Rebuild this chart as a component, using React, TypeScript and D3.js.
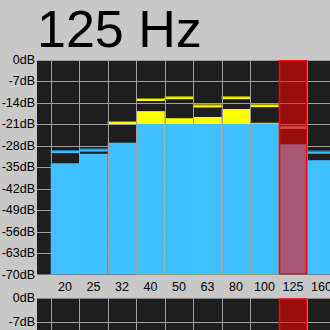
import React from "react";
import * as d3 from "d3";

const bands = ["16", "20", "25", "32", "40", "50", "63", "80", "100", "125", "160"];
const levelDb: (number | null)[] = [null, -33.7, -30.6, -27.0, -20.9, -20.9, -20.9, -20.9, -20.7, -27.5, -32.7];
const holdDb: (number | null)[] = [null, -33.7, -30.6, -27.0, -16.7, -19.0, -18.6, -16.0, -20.5, -27.5, -32.7];
const peakDb: (number | null)[] = [null, -29.9, -29.4, -20.4, -12.9, -12.3, -15.0, -12.3, -14.9, -22.0, -30.1];
const selectedBand = "125";
const titleText = "125 Hz";
const dbTicks = [0, -7, -14, -21, -28, -35, -42, -49, -56, -63, -70];
const lowerTicks = [0, -7, -14];

const W = 330;
const H = 330;
const BG = "#c8c8c8";
const DARK = "#1e1e1e";
const GRID = "#a0a0a0";
const BLUE = "#40c0ff";
const YELLOW = "#ffff00";
const FONT = "Liberation Sans, Arial, sans-serif";

export default function App() {
  const plotL = 37;
  const plotR = W;
  const top1 = 60;
  const bot1 = 274.5;
  const x = d3.scaleBand<string>().domain(bands).range([22.2, 335.8]).padding(0);
  const y = d3.scaleLinear().domain([0, -70]).range([top1, bot1]);
  const top2 = 298.3;
  const y2 = d3.scaleLinear().domain([0, -7]).range([top2, 321.7]);
  const bw = x.bandwidth();
  const edges = bands.map((b) => x(b)!).concat([x(bands[bands.length - 1])! + bw]);
  const sx = x(selectedBand)!;

  const barNodes: React.ReactNode[] = [];
  bands.forEach((b, i) => {
    const lv = levelDb[i];
    const hd = holdDb[i];
    const pk = peakDb[i];
    const bx = x(b)!;
    if (hd != null && hd > (lv ?? -999)) {
      barNodes.push(<rect key={"h" + b} x={bx} y={y(hd)} width={bw} height={bot1 - y(hd)} fill={YELLOW} />);
    }
    if (lv != null) {
      barNodes.push(<rect key={"l" + b} x={bx} y={y(lv)} width={bw} height={bot1 - y(lv)} fill={BLUE} />);
    }
    if (pk != null) {
      const sel = b === selectedBand;
      const isYellow = lv != null && pk - lv > 5;
      const col = sel ? "#a0a0a0" : isYellow ? YELLOW : BLUE;
      const dark = sel ? "#707070" : isYellow ? "#808000" : "#2070a0";
      const py = y(pk);
      barNodes.push(<rect key={"p" + b} x={bx} y={py - 1.5} width={bw} height={3} fill={col} />);
      barNodes.push(
        <line key={"pd" + b} x1={bx} x2={bx + bw} y1={py - 1} y2={py - 1} stroke={dark} strokeWidth={1}
          strokeDasharray={sel ? "2,2" : undefined} />
      );
    }
  });

  return (
    <div style={{ position: "fixed", left: 0, top: 0, width: W, height: H, background: BG }}>
      <svg width={W} height={H} style={{ display: "block" }} fontFamily={FONT}>
        <defs>
          <clipPath id="c1"><rect x={plotL} y={top1} width={plotR - plotL} height={bot1 - top1} /></clipPath>
          <clipPath id="c2"><rect x={plotL} y={top2} width={plotR - plotL} height={H - top2} /></clipPath>
        </defs>
        <rect x={0} y={0} width={W} height={H} fill={BG} />
        <text x={37} y={46.7} fontSize={52} fill="#000">{titleText}</text>

        {/* upper panel */}
        <rect x={plotL} y={top1} width={plotR - plotL} height={bot1 - top1} fill={DARK} />
        <g clipPath="url(#c1)">
          {dbTicks.map((t) => (
            <line key={"g" + t} x1={plotL} x2={plotR} y1={Math.round(y(t)) + 0.5} y2={Math.round(y(t)) + 0.5} stroke={GRID} strokeWidth={1} />
          ))}
          {barNodes}
          {edges.map((e, i) => (
            <line key={"v" + i} x1={Math.round(e) + 0.5} x2={Math.round(e) + 0.5} y1={top1} y2={bot1} stroke={GRID} strokeWidth={1} />
          ))}
          <rect x={sx} y={top1} width={bw} height={bot1 - top1} fill="#ff0000" fillOpacity={0.54} />
          <rect x={sx + 0.75} y={top1 + 0.75} width={bw - 1.5} height={bot1 - top1 - 1.5} fill="none" stroke="#ff0000" strokeWidth={1.5} />
        </g>
        {dbTicks.map((t) => (
          <text key={"yl" + t} x={35} y={y(t)} textAnchor="end" dominantBaseline="central" fontSize={12.5} fill="#000">
            {t + "dB"}
          </text>
        ))}
        {bands.map((b) => (
          <text key={"xl" + b} x={x(b)! + bw / 2} y={286.5} textAnchor="middle" dominantBaseline="central" fontSize={12.5} fill="#000"
            style={{ display: x(b)! + bw / 2 < plotL ? "none" : undefined }}>
            {b}
          </text>
        ))}

        {/* lower panel */}
        <rect x={plotL} y={top2} width={plotR - plotL} height={H - top2} fill={DARK} />
        <g clipPath="url(#c2)">
          {lowerTicks.map((t) => (
            <line key={"g2" + t} x1={plotL} x2={plotR} y1={Math.round(y2(t)) + 0.5} y2={Math.round(y2(t)) + 0.5} stroke={GRID} strokeWidth={1} />
          ))}
          {edges.map((e, i) => (
            <line key={"v2" + i} x1={Math.round(e) + 0.5} x2={Math.round(e) + 0.5} y1={top2} y2={H} stroke={GRID} strokeWidth={1} />
          ))}
          <rect x={sx} y={top2} width={bw} height={H - top2 + 20} fill="#ff0000" fillOpacity={0.54} />
          <rect x={sx + 0.75} y={top2 + 0.75} width={bw - 1.5} height={H - top2 + 20} fill="none" stroke="#ff0000" strokeWidth={1.5} />
        </g>
        {lowerTicks.map((t) => (
          <text key={"yl2" + t} x={35} y={y2(t)} textAnchor="end" dominantBaseline="central" fontSize={12.5} fill="#000">
            {t + "dB"}
          </text>
        ))}
      </svg>
    </div>
  );
}
